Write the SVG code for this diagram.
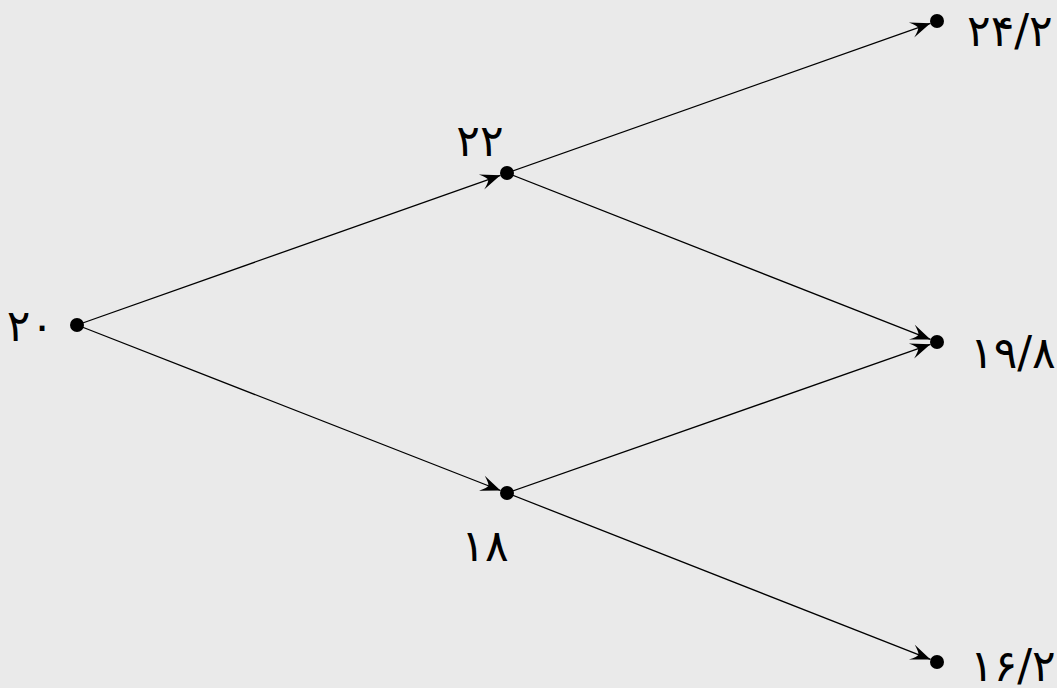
<svg xmlns="http://www.w3.org/2000/svg" width="1057" height="688" viewBox="0 0 1057 688">
<style>
.bg{fill:#eaeaea}
.dot{fill:#000}
.lbl{font-family:"DejaVu Sans",sans-serif;font-size:44px;fill:#000}
.edge{stroke:#000;stroke-width:1.3;fill:none;marker-end:url(#arr)}
</style>
<defs>
<marker id="arr" markerUnits="userSpaceOnUse" viewBox="-22 -9 23 18" refX="0" refY="0" markerWidth="23" markerHeight="18" orient="auto">
<path d="M0,0 L-20,-8 Q-13,-2 -13,0 Q-13,2 -20,8 Z" fill="#000"/>
</marker>
</defs>
<rect class="bg" x="0" y="0" width="1057" height="688"/>
<g id="connectors">
<line class="edge" x1="77" y1="325" x2="500.4" y2="175.3"/>
<line class="edge" x1="77" y1="325" x2="500.5" y2="490.5"/>
<line class="edge" x1="507" y1="173" x2="930.4" y2="23.3"/>
<line class="edge" x1="507" y1="173" x2="930.5" y2="339.4"/>
<line class="edge" x1="507" y1="493" x2="930.4" y2="344.3"/>
<line class="edge" x1="507" y1="493" x2="930.5" y2="659.4"/>
</g>
<g id="n20"><circle class="dot" cx="77" cy="325" r="7"/><text class="lbl" x="54" y="341" text-anchor="end" letter-spacing="3">۲۰</text></g>
<g id="n22"><circle class="dot" cx="507" cy="173" r="7"/><text class="lbl" x="480" y="156" text-anchor="middle" letter-spacing="2">۲۲</text></g>
<g id="n18"><circle class="dot" cx="507" cy="493" r="7"/><text class="lbl" x="485" y="561" text-anchor="middle" letter-spacing="2">۱۸</text></g>
<g id="n242"><circle class="dot" cx="937" cy="21" r="7"/><text class="lbl" x="967" y="46" letter-spacing="-2">۲۴/۲</text></g>
<g id="n198"><circle class="dot" cx="937" cy="342" r="7"/><text class="lbl" x="970" y="368" letter-spacing="-3">۱۹/۸</text></g>
<g id="n162"><circle class="dot" cx="937" cy="662" r="7"/><text class="lbl" x="970" y="681" letter-spacing="-3">۱۶/۲</text></g>
</svg>
